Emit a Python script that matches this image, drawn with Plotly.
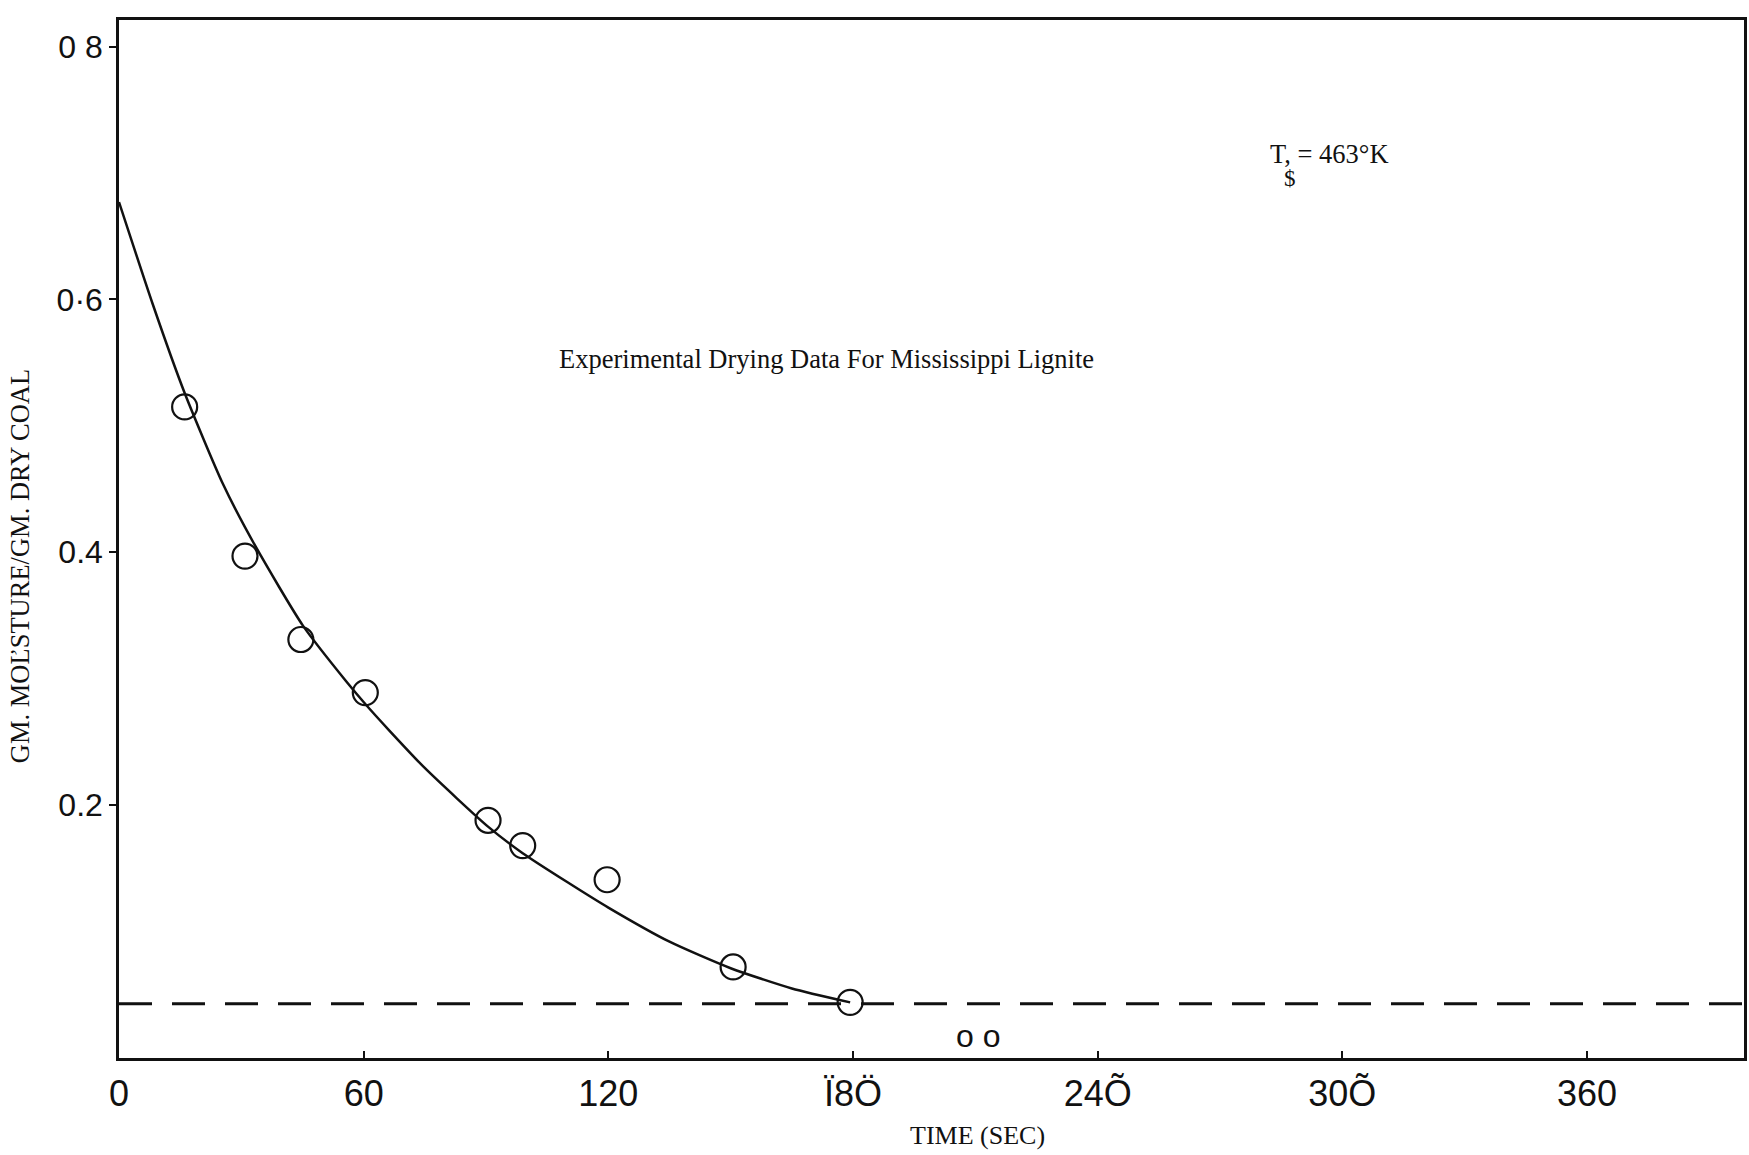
import plotly.graph_objects as go

# Measured drying points (time in s, g moisture / g dry coal)
time_obs = [16.1, 30.9, 44.6, 60.4, 90.5, 99.0, 119.7, 150.6, 179.3]
moist_obs = [0.515, 0.397, 0.331, 0.289, 0.188, 0.168, 0.141, 0.072, 0.044]

# Smooth drying curve traced through the data
time_curve = [0, 8.3, 16.1, 25.5, 33.6, 45.1, 55.7, 60.4, 66.3, 75.1,
              90.5, 99.0, 110.0, 120.0, 135.0, 150.0, 165.0, 179.3]
moist_curve = [0.677, 0.596, 0.526, 0.454, 0.404, 0.342, 0.298, 0.280, 0.259, 0.229,
               0.183, 0.162, 0.139, 0.119, 0.092, 0.071, 0.055, 0.044]

# Equilibrium moisture level
time_eq = [0, 398.5]
moist_eq = [0.043, 0.043]

x_tickvals = [0, 60, 120, 180, 240, 300, 360]
x_ticktext = ["0", "60", "120", "Ï8Ö", "24Õ", "30Õ", "360"]
y_tickvals = [0.2, 0.4, 0.6, 0.8]
y_ticktext = ["0.2", "0.4", "0·6", "0 8"]

fig = go.Figure()

fig.add_trace(go.Scatter(
    x=time_eq, y=moist_eq, mode="lines",
    line=dict(color="#111", width=3, dash="33px,20px"),
    showlegend=False, hoverinfo="skip"))

fig.add_trace(go.Scatter(
    x=time_curve, y=moist_curve, mode="lines",
    line=dict(color="#111", width=2.5, shape="spline", smoothing=0.6),
    showlegend=False))

fig.add_trace(go.Scatter(
    x=time_obs, y=moist_obs, mode="markers",
    marker=dict(symbol="circle-open", size=25, color="#111", line=dict(width=2.2)),
    showlegend=False))

serif = "Liberation Serif, Times New Roman, serif"
sans = "Liberation Sans, Arial, sans-serif"

fig.update_layout(
    width=1749, height=1155,
    margin=dict(l=119, r=2, t=20, b=97),
    paper_bgcolor="white", plot_bgcolor="white",
    xaxis=dict(range=[0, 398.5], tickvals=x_tickvals, ticktext=x_ticktext,
               showgrid=False, zeroline=False, showline=True, mirror=True,
               linecolor="#111", linewidth=2.5, ticks="inside", ticklen=7,
               tickwidth=2, tickcolor="#111", ticklabelstandoff=2,
               tickfont=dict(family=sans, size=36, color="#111")),
    yaxis=dict(range=[0, 0.821], tickvals=y_tickvals, ticktext=y_ticktext,
               showgrid=False, zeroline=False, showline=True, mirror=True,
               linecolor="#111", linewidth=2.5, ticks="outside", ticklen=7,
               tickwidth=2, tickcolor="#111",
               tickfont=dict(family=sans, size=32, color="#111")),
    annotations=[
        dict(text="Experimental Drying Data For Mississippi Lignite",
             xref="paper", yref="paper", x=0.2697, y=0.673,
             xanchor="left", yanchor="middle", showarrow=False,
             font=dict(family=serif, size=26.5, color="#111")),
        dict(text="T, = 463°K", xref="paper", yref="paper", x=0.707, y=0.871,
             xanchor="left", yanchor="middle", showarrow=False,
             font=dict(family=serif, size=26.5, color="#111")),
        dict(text="$", xref="paper", yref="paper", x=0.7205, y=0.847,
             xanchor="center", yanchor="middle", showarrow=False,
             font=dict(family=serif, size=23, color="#111")),
        dict(text="o o", xref="paper", yref="paper", x=0.5285, y=0.0212,
             xanchor="center", yanchor="middle", showarrow=False,
             font=dict(family=sans, size=32, color="#111")),
        dict(text="GM. MOĽSTURE/GM. DRY COAL", xref="paper", yref="paper",
             x=-0.0608, y=0.474, xanchor="center", yanchor="middle",
             textangle=-90, showarrow=False,
             font=dict(family=serif, size=26.5, color="#111")),
        dict(text="TIME (SEC)", xref="paper", yref="paper", x=0.528, y=-0.0742,
             xanchor="center", yanchor="middle", showarrow=False,
             font=dict(family=serif, size=26, color="#111")),
    ],
)

fig.write_html("out.html")
